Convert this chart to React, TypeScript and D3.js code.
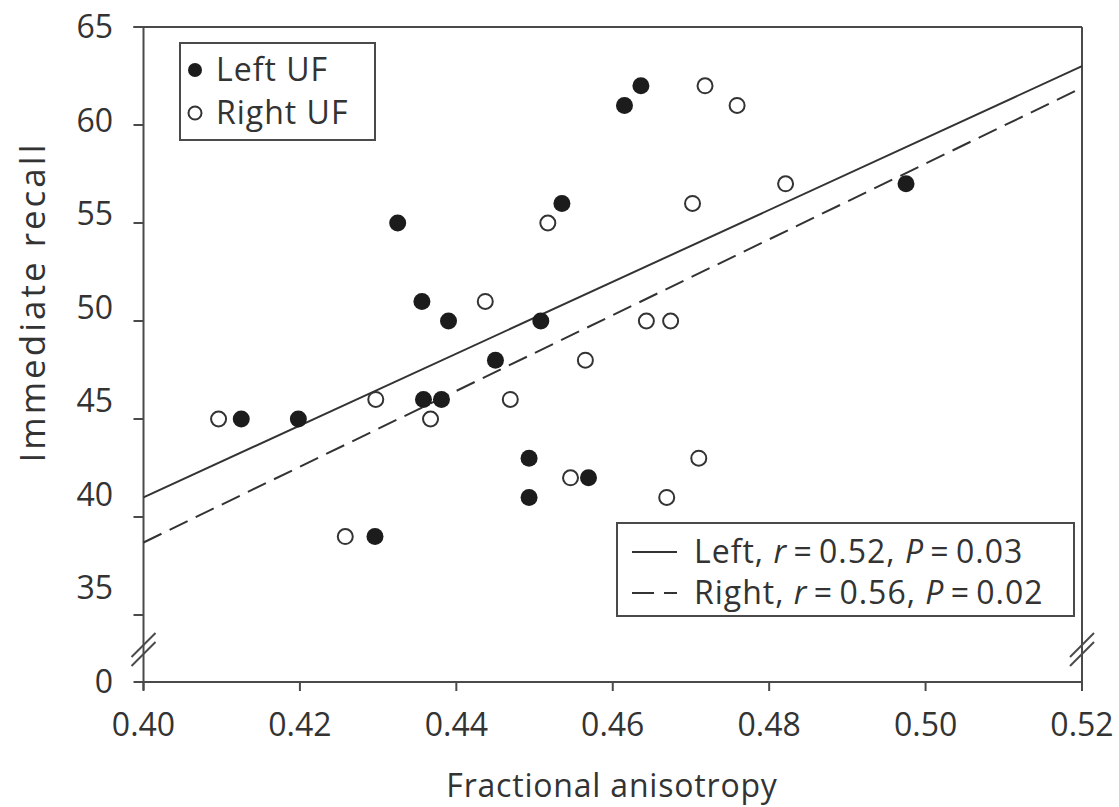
import React from "react";
import * as d3 from "d3";

// ---- data ----
const leftFA = [0.4125, 0.4198, 0.4296, 0.4325, 0.4356, 0.4358, 0.4381, 0.4390, 0.4450, 0.4493, 0.4493, 0.4508, 0.4535, 0.4569, 0.4615, 0.4636, 0.4975];
const leftRecall = [45, 45, 39, 55, 51, 46, 46, 50, 48, 43, 41, 50, 56, 42, 61, 62, 57];

const rightFA = [0.4096, 0.4258, 0.4297, 0.4367, 0.4437, 0.4469, 0.4517, 0.4546, 0.4565, 0.4643, 0.4669, 0.4674, 0.4702, 0.4710, 0.4718, 0.4759, 0.4821];
const rightRecall = [45, 39, 46, 45, 51, 46, 55, 42, 48, 50, 41, 50, 56, 43, 62, 61, 57];

// fitted regression lines (value at x = 0.40 and x = 0.52)
const fitX = [0.40, 0.52];
const fitLeft = [41.0, 63.0];
const fitRight = [38.7, 61.9];

const xTicks = [0.40, 0.42, 0.44, 0.46, 0.48, 0.50, 0.52];
const yTicks = [35, 40, 45, 50, 55, 60, 65];
const yZeroLabel = "0";

const legendSeries = ["Left UF", "Right UF"];
const fitLabels = [
  { name: "Left", r: "0.52", p: "0.03" },
  { name: "Right", r: "0.56", p: "0.02" },
];

const xTitle = "Fractional anisotropy";
const yTitle = "Immediate recall";

// ---- layout ----
const W = 1119;
const H = 807;
const left = 143.5;
const right = 1082;
const top = 27;
const y35 = 615;
const bottom = 682;

const FONT = "'Open Sans', Lato, sans-serif";
const INK = "#333";
const AXIS = "#4a4a4a";
const FS = 32;

export default function App() {
  const x = d3.scaleLinear().domain([0.40, 0.52]).range([left, right]);
  const y = d3.scaleLinear().domain([35, 65]).range([y35, top]);
  const labelY = (v: number) => y(v) - (65 - v) * 0.9 + 11;

  const line = d3
    .line<[number, number]>()
    .x((d) => x(d[0]))
    .y((d) => y(d[1]));

  const leftFit: [number, number][] = fitX.map((v, i) => [v, fitLeft[i]]);
  const rightFit: [number, number][] = fitX.map((v, i) => [v, fitRight[i]]);

  const breakY = (y35 + bottom) / 2 + 1;
  const breakMarks = (cx: number) =>
    [-4.5, 4.5].map((o, i) => (
      <line
        key={`${cx}-${i}`}
        x1={cx - 12}
        y1={breakY + o + 12}
        x2={cx + 12}
        y2={breakY + o - 12}
        stroke={AXIS}
        strokeWidth={2}
      />
    ));

  return (
    <>
      <style>{`body{margin:0}`}</style>
      <svg width={W} height={H} style={{ display: "block", background: "#fff" }} fontFamily={FONT}>
        {/* frame */}
        <line x1={left - 10} y1={top} x2={right} y2={top} stroke={AXIS} strokeWidth={2} />
        <line x1={right} y1={top} x2={right} y2={bottom + 8} stroke={AXIS} strokeWidth={2} />
        <line x1={left} y1={top} x2={left} y2={bottom + 8} stroke={AXIS} strokeWidth={2} />
        <line x1={left - 10} y1={bottom} x2={right} y2={bottom} stroke={AXIS} strokeWidth={2} />

        {/* y ticks */}
        {yTicks.map((t) => (
          <g key={`yt${t}`}>
            <line x1={left - 10} x2={left} y1={y(t)} y2={y(t)} stroke={AXIS} strokeWidth={2} />
            <text x={113} y={labelY(t)} textAnchor="end" fontSize={FS} fill={INK}>
              {t}
            </text>
          </g>
        ))}
        <text x={113} y={bottom + 11} textAnchor="end" fontSize={FS} fill={INK}>
          {yZeroLabel}
        </text>

        {/* x ticks */}
        {xTicks.map((t) => (
          <g key={`xt${t}`}>
            <line x1={x(t)} x2={x(t)} y1={bottom} y2={bottom + 9} stroke={AXIS} strokeWidth={2} />
            <text x={x(t)} y={736} textAnchor="middle" fontSize={FS} fill={INK}>
              {t.toFixed(2)}
            </text>
          </g>
        ))}

        {/* axis breaks */}
        {breakMarks(left)}
        {breakMarks(right)}

        {/* titles */}
        <text x={612} y={797} textAnchor="middle" fontSize={32} letterSpacing={0.8} fill={INK}>
          {xTitle}
        </text>
        <text
          transform={`translate(45,302) rotate(-90)`}
          textAnchor="middle"
          fontSize={35}
          letterSpacing={3}
          fill={INK}
        >
          {yTitle}
        </text>

        {/* regression lines */}
        <path d={line(leftFit) || ""} fill="none" stroke={INK} strokeWidth={2} />
        <path d={line(rightFit) || ""} fill="none" stroke={INK} strokeWidth={2} strokeDasharray="20 9" />

        {/* points */}
        {rightFA.map((v, i) => (
          <circle key={`r${i}`} cx={x(v)} cy={y(rightRecall[i])} r={7.5} fill="#fff" stroke={INK} strokeWidth={2} />
        ))}
        {leftFA.map((v, i) => (
          <circle key={`l${i}`} cx={x(v)} cy={y(leftRecall[i])} r={8.5} fill="#1c1c1c" />
        ))}

        {/* series legend */}
        <rect x={180} y={43} width={195} height={97} fill="#fff" stroke={AXIS} strokeWidth={2} />
        <circle cx={195} cy={70} r={7} fill="#1c1c1c" />
        <text x={216} y={81} fontSize={FS} letterSpacing={1} fill={INK}>
          {legendSeries[0]}
        </text>
        <circle cx={195} cy={113} r={6.5} fill="#fff" stroke={INK} strokeWidth={2} />
        <text x={216} y={124} fontSize={FS} letterSpacing={1} fill={INK}>
          {legendSeries[1]}
        </text>

        {/* fit legend */}
        <rect x={617} y={523} width={457} height={93} fill="#fff" stroke={AXIS} strokeWidth={2} />
        {fitLabels.map((f, i) => {
          const cy = 552 + i * 41;
          return (
            <g key={`fl${i}`}>
              <line
                x1={632}
                x2={677}
                y1={cy}
                y2={cy}
                stroke={INK}
                strokeWidth={2}
                strokeDasharray={i === 0 ? undefined : "22 10"}
              />
              <text x={694} y={cy + 11} fontSize={FS} letterSpacing={1} fill={INK}>
                {f.name},{" "}
                <tspan fontStyle="italic">r</tspan>
                {"\u2009=\u2009"}
                {f.r},{" "}
                <tspan fontStyle="italic">P</tspan>
                {"\u2009=\u2009"}
                {f.p}
              </text>
            </g>
          );
        })}
      </svg>
    </>
  );
}
